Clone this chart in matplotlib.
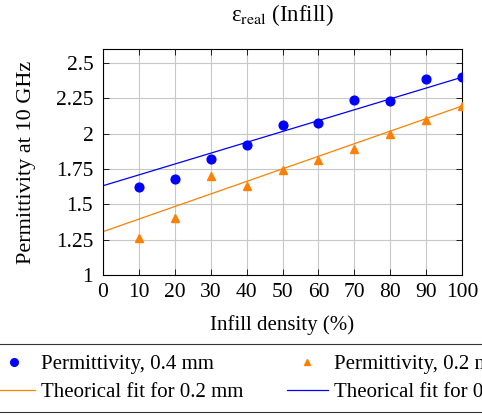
import matplotlib.pyplot as plt
from matplotlib.lines import Line2D

plt.rcParams['font.family'] = ['Liberation Serif', 'DejaVu Serif']
plt.rcParams['mathtext.fontset'] = 'stix'

infill = [10, 20, 30, 40, 50, 60, 70, 80, 90, 100]
perm_04 = [1.62, 1.68, 1.82, 1.92, 2.06, 2.075, 2.24, 2.235, 2.39, 2.405]
perm_02 = [1.265, 1.405, 1.70, 1.63, 1.745, 1.815, 1.89, 2.0, 2.10, 2.195]

fit_x = [0, 100]
fit_04 = [1.632, 2.40]
fit_02 = [1.307, 2.196]

y_ticks = [1, 1.25, 1.5, 1.75, 2, 2.25, 2.5]
y_tick_labels = ['1', '1.25', '1.5', '1.75', '2', '2.25', '2.5']
x_ticks = [0, 10, 20, 30, 40, 50, 60, 70, 80, 90, 100]

blue = '#0000ff'
orange = '#ff8000'

fig = plt.figure(figsize=(4.82, 4.15), dpi=100)
ax = fig.add_axes([0.2137, 0.3373, 0.7448, 0.5447])

ax.plot(infill, perm_04, 'o', color=blue, markersize=6.3, zorder=3)
ax.plot(infill, perm_02, '^', color=orange, markersize=5.5, zorder=3)
ax.plot(fit_x, fit_02, '-', color=orange, linewidth=0.9)
ax.plot(fit_x, fit_04, '-', color=blue, linewidth=0.9)

ax.set_xlim(0, 100)
ax.set_ylim(1, 2.6)
ax.set_xticks(x_ticks)
ax.set_yticks(y_ticks)
ax.set_yticklabels(y_tick_labels)
ax.tick_params(direction='in', length=4, width=0.6, labelsize=15.5,
               top=True, right=True)
ax.tick_params(axis='y', pad=7)
ax.tick_params(axis='x', pad=6)
ax.grid(True, color='#c8c8c8', linewidth=0.8)
ax.set_axisbelow(True)
for s in ax.spines.values():
    s.set_linewidth(0.8)

fig.text(0.586, 1 - 15 / 415, 'ε$_{\\mathrm{real}}$ (Infill)', fontsize=16.5,
         ha='center', va='center')
ax.set_xlabel('Infill density (%)', fontsize=15)
ax.xaxis.set_label_coords(0.5, -0.178)
ax.set_ylabel('Permittivity at 10 GHz', fontsize=16)
ax.yaxis.set_label_coords(-0.188, 0.5)

handles = [
    Line2D([], [], marker='o', linestyle='none', color=blue, markersize=5.5),
    Line2D([], [], color=orange, linewidth=0.9),
    Line2D([], [], marker='^', linestyle='none', color=orange, markersize=5),
    Line2D([], [], color=blue, linewidth=0.9),
]
labels = ['Permittivity, 0.4 mm', 'Theorical fit for 0.2 mm',
          'Permittivity, 0.2 mm', 'Theorical fit for 0.4 mm']
leg = fig.legend(handles, labels, ncol=2, loc='upper left',
                 bbox_to_anchor=(-0.034, 1 - 344 / 415), borderaxespad=0,
                 fontsize=15, frameon=True, fancybox=False, edgecolor='black',
                 handlelength=1.95, handletextpad=0.3, columnspacing=2.1,
                 borderpad=0.5, labelspacing=0.4)
leg.get_frame().set_linewidth(0.8)

fig.savefig('out.png', dpi=100)
